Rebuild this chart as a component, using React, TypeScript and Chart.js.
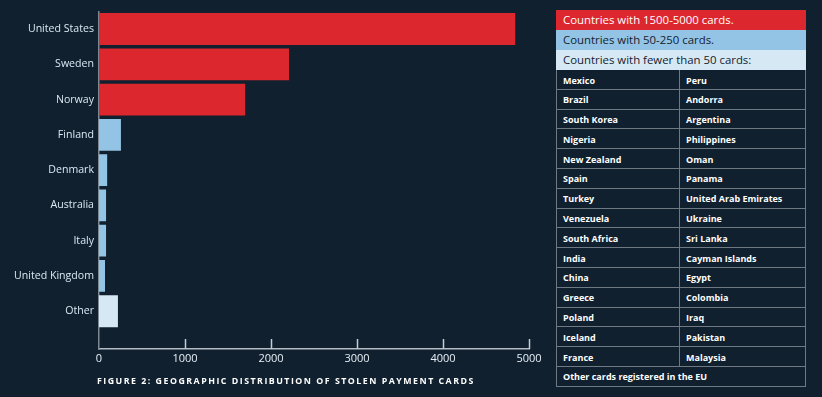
import React, { useEffect, useRef } from "react";
import { Chart, registerables } from "chart.js";

Chart.register(...registerables);

const categories = ["United States", "Sweden", "Norway", "Finland", "Denmark", "Australia", "Italy", "United Kingdom", "Other"];
const cards = [4840, 2210, 1700, 255, 95, 82, 82, 70, 220];
const groups = ["high", "high", "high", "mid", "mid", "mid", "mid", "mid", "low"];
const xTicks = [0, 1000, 2000, 3000, 4000, 5000];

const legendRows = [
  { key: "high", text: "Countries with 1500-5000 cards." },
  { key: "mid", text: "Countries with 50-250 cards." },
  { key: "low", text: "Countries with fewer than 50 cards:" },
];
const leftCountries = ["Mexico", "Brazil", "South Korea", "Nigeria", "New Zealand", "Spain", "Turkey", "Venezuela", "South Africa", "India", "China", "Greece", "Poland", "Iceland", "France"];
const rightCountries = ["Peru", "Andorra", "Argentina", "Philippines", "Oman", "Panama", "United Arab Emirates", "Ukraine", "Sri Lanka", "Cayman Islands", "Egypt", "Colombia", "Iraq", "Pakistan", "Malaysia"];
const footerRow = "Other cards registered in the EU";
const figureTitle = "FIGURE 2: GEOGRAPHIC DISTRIBUTION OF STOLEN PAYMENT CARDS";

const BG = "#10202e";
const groupColors: Record<string, string> = { high: "#dc272e", mid: "#93c4e5", low: "#d7e8f5" };
const groupText: Record<string, string> = { high: "#ffffff", mid: "#15222e", low: "#15222e" };
const FONT = "'Open Sans', 'DejaVu Sans', sans-serif";

const tickMarks = {
  id: "tickMarks",
  afterDraw(chart: any) {
    const { ctx, chartArea, scales } = chart;
    const xs = scales.x;
    ctx.save();
    ctx.strokeStyle = "#c5ccd3";
    ctx.lineWidth = 1.5;
    xs.ticks.forEach((t: any) => {
      if (t.value === 0) return;
      const px = Math.round(xs.getPixelForValue(t.value)) + 0.5;
      ctx.beginPath();
      ctx.moveTo(px, chartArea.bottom - 10);
      ctx.lineTo(px, chartArea.bottom);
      ctx.stroke();
    });
    ctx.restore();
  },
};

function BarChart() {
  const ref = useRef<HTMLCanvasElement | null>(null);
  useEffect(() => {
    if (!ref.current) return;
    const chart = new Chart(ref.current, {
      type: "bar",
      data: {
        datasets: [
          {
            data: cards.map((v, i) => ({ x: v, y: i })),
            backgroundColor: groups.map((g) => groupColors[g]),
            borderWidth: 0,
            barPercentage: 0.9,
            categoryPercentage: 1,
          },
        ],
      },
      options: {
        indexAxis: "y",
        animation: false,
        responsive: false,
        maintainAspectRatio: false,
        layout: { padding: { top: 9, right: 16, bottom: 0, left: 0 } },
        plugins: { legend: { display: false }, tooltip: { enabled: false }, title: { display: false } },
        scales: {
          x: {
            type: "linear",
            min: 0,
            max: 5000,
            offset: false,
            afterBuildTicks: (s: any) => {
              s.ticks = xTicks.map((v) => ({ value: v }));
            },
            afterFit: (s: any) => {
              s.height = 48;
            },
            grid: { display: false, drawTicks: false },
            border: { display: true, color: "#b3bbc3", width: 1.5 },
            ticks: {
              color: "#e8f0f7",
              font: { family: FONT, size: 11 },
              padding: 3,
              maxRotation: 0,
              callback: (v: any) => String(v),
            },
          },
          y: {
            type: "linear",
            reverse: true,
            offset: false,
            min: -0.5,
            max: 9.07,
            afterBuildTicks: (s: any) => {
              s.ticks = categories.map((_, i) => ({ value: i }));
            },
            afterFit: (s: any) => {
              s.width = 99;
            },
            grid: { display: false, drawTicks: false, offset: false },
            border: { display: true, color: "#7d8893", width: 1.5 },
            ticks: {
              color: "#dbe8f4",
              font: { family: FONT, size: 10.6 },
              padding: 5,
              callback: (v: any) => categories[v as number] ?? "",
            },
          },
        },
      },
      plugins: [tickMarks],
    } as any);
    return () => chart.destroy();
  }, []);
  return <canvas ref={ref} width={545} height={397} style={{ position: "absolute", left: 0, top: 0, width: 545, height: 397 }} />;
}

export default function App() {
  useEffect(() => {
    document.body.style.margin = "0";
    document.body.style.background = BG;
  }, []);
  const cellBorder = "1.5px solid #6e7984";
  const rowH = 19.8;
  const cellText = {
    color: "#ffffff",
    fontWeight: 700,
    fontSize: 9,
    lineHeight: rowH - 1.5 + "px",
    paddingLeft: 6,
    paddingTop: 1.5,
    whiteSpace: "nowrap" as const,
  };
  return (
    <div style={{ position: "relative", width: 822, height: 397, background: BG, overflow: "hidden", fontFamily: FONT }}>
      <BarChart />
      <div
        style={{
          position: "absolute",
          left: 97,
          top: 375,
          color: "#ffffff",
          fontWeight: 700,
          fontSize: 8.8,
          letterSpacing: 1.5,
          whiteSpace: "nowrap",
          lineHeight: "12px",
        }}
      >
        {figureTitle}
      </div>
      <div style={{ position: "absolute", left: 556, top: 10, width: 250 }}>
        {legendRows.map((r) => (
          <div
            key={r.key}
            style={{
              height: 20,
              lineHeight: "20px",
              background: groupColors[r.key],
              color: groupText[r.key],
              fontSize: 11.4,
              paddingLeft: 7,
              whiteSpace: "nowrap",
            }}
          >
            {r.text}
          </div>
        ))}
        <div style={{ borderLeft: cellBorder, borderRight: cellBorder, boxSizing: "border-box", width: 250 }}>
          {leftCountries.map((c, i) => (
            <div key={c} style={{ display: "flex", height: rowH, borderBottom: cellBorder, boxSizing: "border-box" }}>
              <div style={{ ...cellText, width: 123, borderRight: cellBorder, boxSizing: "border-box" }}>{c}</div>
              <div style={{ ...cellText, flex: 1, boxSizing: "border-box" }}>{rightCountries[i]}</div>
            </div>
          ))}
          <div style={{ ...cellText, height: rowH, borderBottom: cellBorder, boxSizing: "border-box" }}>{footerRow}</div>
        </div>
      </div>
    </div>
  );
}
